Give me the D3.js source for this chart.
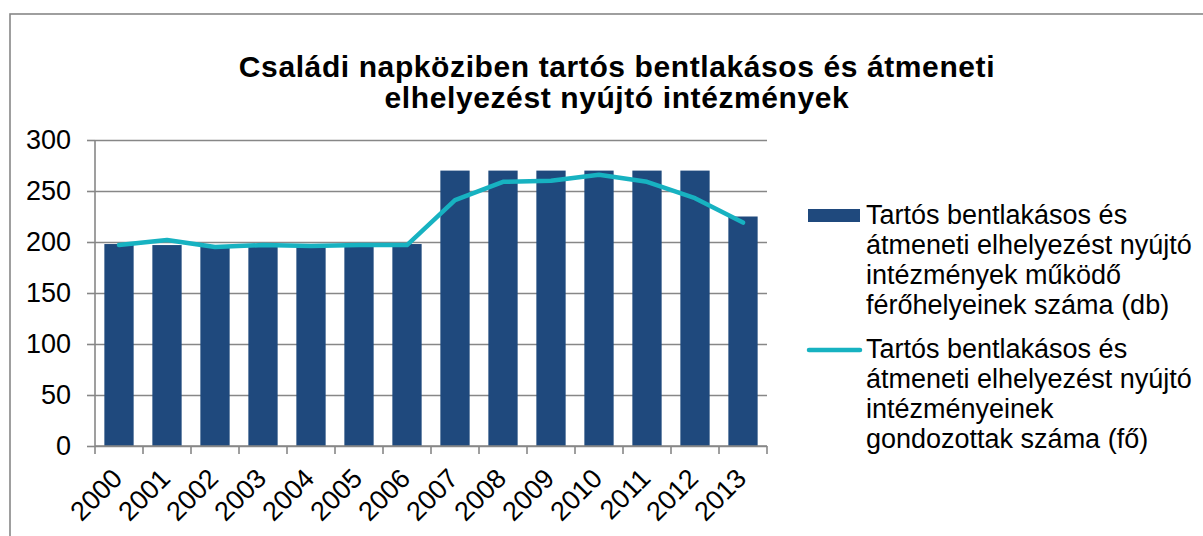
<!DOCTYPE html>
<html>
<head>
<meta charset="utf-8">
<script src="https://cdn.jsdelivr.net/npm/d3@7"></script>
<style>
  body { margin: 0; background: #fff; }
  svg { display: block; font-family: Arial, 'Liberation Sans', sans-serif; }
</style>
</head>
<body>
<div id="chart"></div>
<script>
const years = ['2000', '2001', '2002', '2003', '2004', '2005', '2006', '2007', '2008', '2009', '2010', '2011', '2012', '2013'];
// működő férőhelyek száma (db)
const places = [198, 197, 196, 196, 196, 197, 198, 270, 270, 270, 270, 270, 270, 225];
// gondozottak száma (fő)
const residents = [197, 202, 195, 197, 196, 197, 197, 241, 259, 260, 266, 259, 243, 219];
const yTicks = [0, 50, 100, 150, 200, 250, 300];

const titleLines = ['Családi napköziben tartós bentlakásos és átmeneti', 'elhelyezést nyújtó intézmények'];
const legendBar = ['Tartós bentlakásos és', 'átmeneti elhelyezést nyújtó', 'intézmények működő', 'férőhelyeinek száma (db)'];
const legendLine = ['Tartós bentlakásos és', 'átmeneti elhelyezést nyújtó', 'intézményeinek', 'gondozottak száma (fő)'];

const W = 1203, H = 536;
const plot = { left: 95, right: 767, top: 140, bottom: 446 };
const barColor = '#1f497d';
const lineColor = '#17b2c1';
const gridColor = '#878787';

const data = years.map((y, i) => ({ year: y, places: places[i], residents: residents[i] }));

const svg = d3.select('#chart').append('svg').attr('width', W).attr('height', H);

// outer chart frame (runs off the page right and bottom)
svg.append('rect')
  .attr('x', 10).attr('y', 14)
  .attr('width', 1300).attr('height', 600)
  .attr('fill', 'none')
  .attr('stroke', gridColor)
  .attr('stroke-width', 1.6);

// title, two lines
svg.append('g')
  .attr('text-anchor', 'middle')
  .attr('font-weight', 'bold')
  .attr('font-size', 30)
  .attr('letter-spacing', 0.6)
  .attr('fill', '#000')
  .selectAll('text')
  .data(titleLines)
  .join('text')
  .attr('x', 617)
  .attr('y', (d, i) => 77 + i * 31)
  .text(d => d);

const x = d3.scaleBand()
  .domain(years)
  .range([plot.left, plot.right])
  .paddingInner(0.39)
  .paddingOuter(0.195);

const y = d3.scaleLinear().domain([0, 300]).range([plot.bottom, plot.top]);

// y axis with gridlines
const yAxis = (g) =>
  g
    .attr('transform', `translate(${plot.left},0)`)
    .call(d3.axisLeft(y).tickValues(yTicks).tickSize(8).tickPadding(16))
    .call((gr) => gr.select('.domain').remove())
    .call((gr) => gr.selectAll('.tick line').attr('stroke', gridColor).attr('stroke-width', 1.6))
    .call((gr) =>
      gr
        .selectAll('.tick line')
        .clone()
        .attr('x1', 0)
        .attr('x2', plot.right - plot.left)
    )
    .call((gr) =>
      gr
        .selectAll('.tick text')
        .attr('font-size', 27)
        .attr('font-family', 'Arial, Liberation Sans, sans-serif')
        .attr('fill', '#000')
    );

svg.append('g').call(yAxis);

// left axis line
svg.append('line')
  .attr('x1', plot.left).attr('x2', plot.left)
  .attr('y1', plot.top).attr('y2', plot.bottom)
  .attr('stroke', gridColor)
  .attr('stroke-width', 1.6);

// bars
svg.append('g')
  .selectAll('rect')
  .data(data)
  .join('rect')
  .attr('x', (d) => x(d.year))
  .attr('y', (d) => y(d.places))
  .attr('width', x.bandwidth())
  .attr('height', (d) => y(0) - y(d.places))
  .attr('fill', barColor);

// x axis: boundary ticks between categories
const step = x.step();
const tickPos = d3.range(years.length + 1).map((i) => plot.left + i * step);
const xg = svg.append('g');
xg.append('line')
  .attr('x1', plot.left).attr('x2', plot.right)
  .attr('y1', plot.bottom).attr('y2', plot.bottom)
  .attr('stroke', gridColor)
  .attr('stroke-width', 1.6);
xg.selectAll('line.tk')
  .data(tickPos)
  .join('line')
  .attr('class', 'tk')
  .attr('x1', (d) => d).attr('x2', (d) => d)
  .attr('y1', plot.bottom).attr('y2', plot.bottom + 8)
  .attr('stroke', gridColor)
  .attr('stroke-width', 1.6);
xg.selectAll('text')
  .data(years)
  .join('text')
  .attr('transform', (d) => `translate(${x(d) + x.bandwidth() / 2 + 5},${plot.bottom + 34}) rotate(-45)`)
  .attr('text-anchor', 'end')
  .attr('font-size', 27)
  .attr('fill', '#000')
  .text((d) => d);

// line series
const line = d3.line()
  .x((d) => x(d.year) + x.bandwidth() / 2)
  .y((d) => y(d.residents));

svg.append('path')
  .datum(data)
  .attr('fill', 'none')
  .attr('stroke', lineColor)
  .attr('stroke-width', 4.5)
  .attr('stroke-linejoin', 'round')
  .attr('stroke-linecap', 'round')
  .attr('d', line);

// legend
const legend = svg.append('g').attr('font-size', 27).attr('fill', '#000');
legend.append('rect')
  .attr('x', 808).attr('y', 209)
  .attr('width', 52).attr('height', 13)
  .attr('fill', barColor);
legend.append('text')
  .selectAll('tspan')
  .data(legendBar)
  .join('tspan')
  .attr('x', 866)
  .attr('y', (d, i) => 224 + i * 30)
  .text((d) => d);

legend.append('line')
  .attr('x1', 809).attr('x2', 860)
  .attr('y1', 350).attr('y2', 350)
  .attr('stroke', lineColor)
  .attr('stroke-width', 4.5)
  .attr('stroke-linecap', 'round');
legend.append('text')
  .selectAll('tspan')
  .data(legendLine)
  .join('tspan')
  .attr('x', 866)
  .attr('y', (d, i) => 358 + i * 30)
  .text((d) => d);
</script>
</body>
</html>
